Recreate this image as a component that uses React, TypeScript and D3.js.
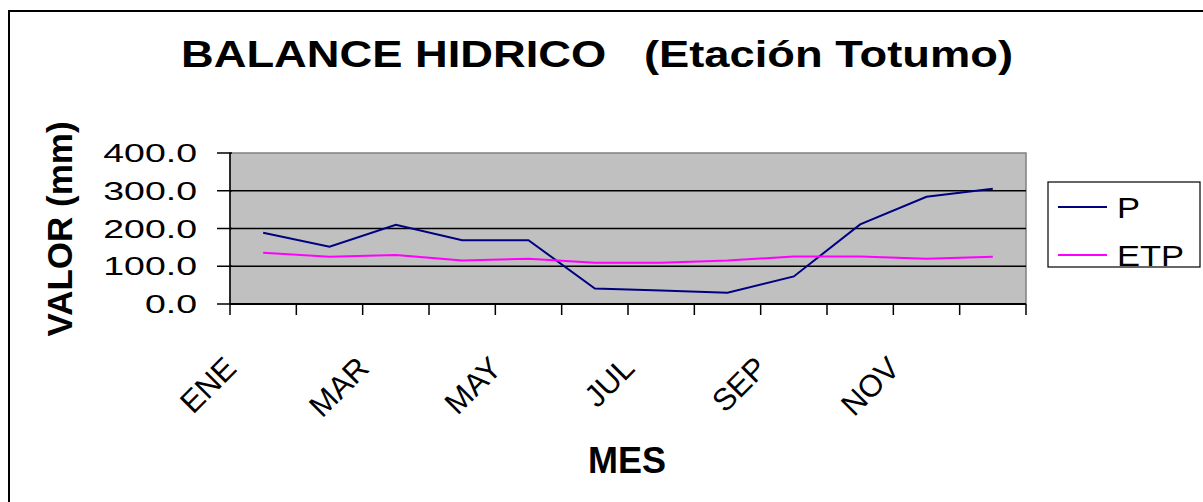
import React from 'react';
import * as d3 from 'd3';

const months = ['ENE', 'FEB', 'MAR', 'ABR', 'MAY', 'JUN', 'JUL', 'AGO', 'SEP', 'OCT', 'NOV', 'DIC'];
const precipitacion = [189, 152, 210, 169, 169, 41, 36, 30, 73, 211, 284, 305];
const etp = [136, 125, 130, 115, 120, 109, 109, 115, 126, 126, 120, 125];
const yTicks = [0, 100, 200, 300, 400];

const seriesList = [
    { name: 'P', values: precipitacion, color: '#000080' },
    { name: 'ETP', values: etp, color: '#FF00FF' }
];

const FONT = '"Liberation Sans", Arial, sans-serif';

const App = () => {
    const width = 1203;
    const height = 502;
    const plot = { left: 230, right: 1026, top: 153, bottom: 304 };

    const x = d3.scaleBand<string>()
        .domain(months)
        .range([plot.left, plot.right]);

    const y = d3.scaleLinear()
        .domain([0, 400])
        .range([plot.bottom, plot.top]);

    const cx = (m: string) => (x(m) ?? 0) + x.bandwidth() / 2;

    const line = d3.line<number>()
        .x((_, i) => cx(months[i]))
        .y(d => y(d));

    // band edges for the x ticks
    const edges = months.map(m => x(m) ?? 0).concat([plot.right]);

    return (
        <svg width={width} height={height}
            style={{ position: 'absolute', left: 0, top: 0, background: '#fff', fontFamily: FONT }}>
            {/* outer chart border */}
            <rect x={9} y={11} width={1200} height={500} fill="#fff" stroke="#000" strokeWidth={2} />

            <text x={181} y={67} fontSize={36} fontWeight="bold" textLength={832}
                lengthAdjust="spacingAndGlyphs" style={{ whiteSpace: 'pre' }}>
                {'BALANCE HIDRICO   (Etación Totumo)'}
            </text>

            {/* plot area */}
            <rect x={plot.left} y={plot.top} width={plot.right - plot.left} height={plot.bottom - plot.top}
                fill="#C0C0C0" stroke="#808080" strokeWidth={1.5} />

            {yTicks.filter(t => t > 0 && t < 400).map(t => (
                <line key={t} x1={plot.left} x2={plot.right} y1={y(t)} y2={y(t)} stroke="#000" strokeWidth={1.5} />
            ))}

            {/* y axis */}
            <line x1={plot.left} x2={plot.left} y1={plot.top} y2={plot.bottom} stroke="#000" strokeWidth={1.5} />
            {yTicks.map(t => (
                <g key={t}>
                    <line x1={plot.left - 13} x2={plot.left + 2} y1={y(t)} y2={y(t)} stroke="#000" strokeWidth={1.5} />
                    <g transform={`translate(197,${y(t)}) scale(1.5,1)`}>
                        <text textAnchor="end" dy="0.36em" fontSize={25}>{t.toFixed(1)}</text>
                    </g>
                </g>
            ))}
            <text transform="translate(72,229) rotate(-90)" textAnchor="middle" fontSize={35} fontWeight="bold">
                VALOR (mm)
            </text>

            {/* x axis */}
            <line x1={plot.left} x2={plot.right} y1={plot.bottom} y2={plot.bottom} stroke="#000" strokeWidth={2} />
            {edges.map((e, i) => (
                <line key={i} x1={e} x2={e} y1={plot.bottom} y2={plot.bottom + 11} stroke="#000" strokeWidth={1.5} />
            ))}
            {months.filter((_, i) => i % 2 === 0).map(m => (
                <text key={m} transform={`translate(${cx(m) - 25},370) rotate(-45)`} textAnchor="end" fontSize={31}>
                    {m}
                </text>
            ))}
            <text x={627} y={473} textAnchor="middle" fontSize={36} fontWeight="bold">MES</text>

            {/* series */}
            {seriesList.map(s => (
                <path key={s.name} d={line(s.values) ?? ''} fill="none" stroke={s.color} strokeWidth={2} />
            ))}

            {/* legend */}
            <rect x={1048} y={182} width={152} height={85} fill="#fff" stroke="#000" strokeWidth={1.2} />
            {seriesList.map((s, i) => (
                <g key={s.name} transform={`translate(1058,${207 + i * 48})`}>
                    <line x1={0} x2={49} y1={0} y2={0} stroke={s.color} strokeWidth={2} />
                    <g transform="translate(59,11) scale(1.15,1)">
                        <text fontSize={30}>{s.name}</text>
                    </g>
                </g>
            ))}
        </svg>
    );
};

export default App;
